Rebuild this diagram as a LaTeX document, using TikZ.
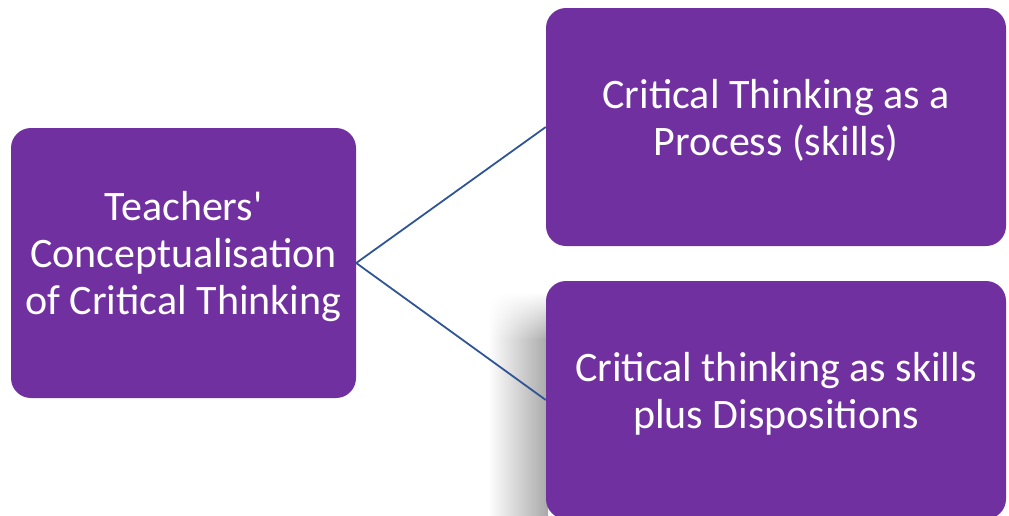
\documentclass[tikz,border=0pt]{standalone}
\usepackage{fontspec}
\setmainfont{Carlito}
\usepackage{xcolor}
\usetikzlibrary{positioning, fadings}

\definecolor{boxpurple}{HTML}{7030A0}
\definecolor{linkblue}{HTML}{2F5597}

\begin{document}
\begin{tikzpicture}[x=1pt, y=-1pt,
                        box/.style={fill=boxpurple, rounded corners=20pt, text=white, align=center,
                            font=\fontsize{42}{47}\selectfont, inner sep=0pt},
                        link/.style={draw=linkblue, line width=1.8pt}]
                        \useasboundingbox (0,0) rectangle (1009,515);
                        \clip (0,0) rectangle (1009,515);
                        % soft shadow left of the lower box
                        \shade[left color=white, right color=black!34, path fading=north] (488,292) rectangle (548,340);
                        \shade[left color=white, right color=black!34] (488,339) rectangle (548,515);
                        \node[box, minimum width=345pt, minimum height=270pt] (teach) at (183.5, 263) {};
                        \node[box, minimum width=460pt, minimum height=238pt] (proc) at (776, 127) {};
                        \node[box, minimum width=460pt, minimum height=238pt] (disp) at (776, 400) {};
                        % texts sit a little above the box centres
                        \node[box, fill=none] (teachtext) at ([yshift=6pt]teach.center) {Teachers\textquotesingle\\Conceptualisation\\of Critical Thinking};
                        \node[box, fill=none] (proctext) at ([yshift=7pt]proc.center) {Critical Thinking as a\\Process (skills)};
                        \node[box, fill=none] (disptext) at ([yshift=6pt]disp.center) {Critical thinking as skills\\plus Dispositions};
                        \draw[link]
                        (teach.east) -- (proc.west)
                        (teach.east) -- (disp.west);
                    \end{tikzpicture}
\end{document}
